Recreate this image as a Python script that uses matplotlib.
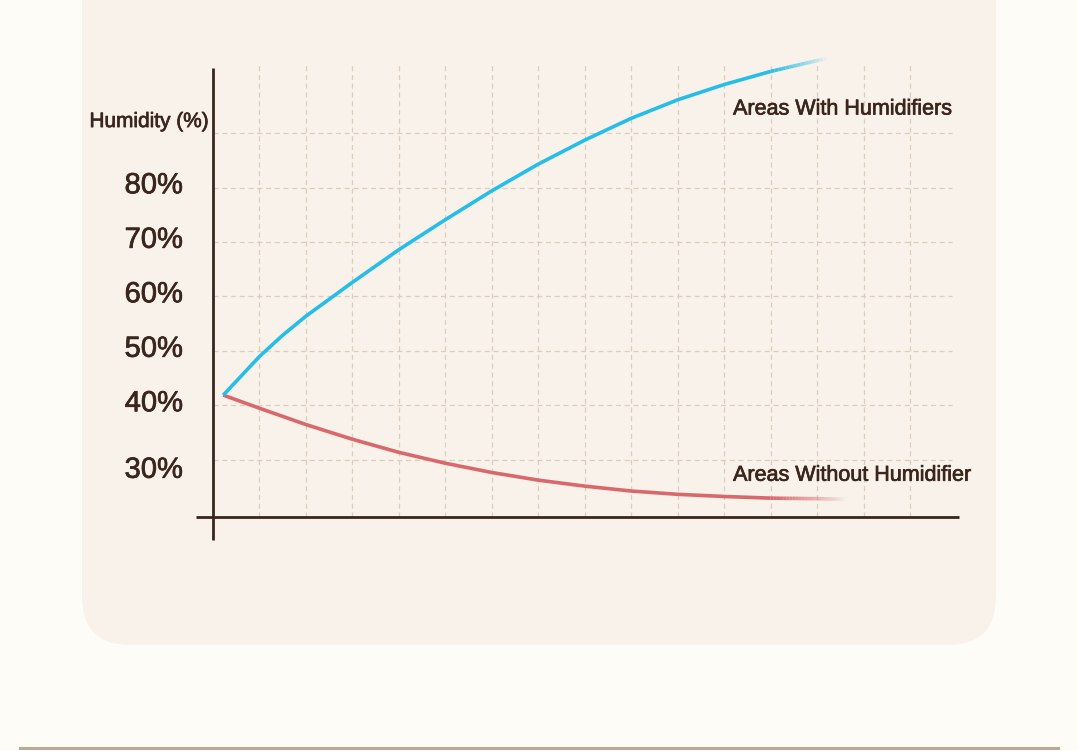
import numpy as np
import matplotlib
matplotlib.use("Agg")
import matplotlib.pyplot as plt
import matplotlib.patheffects as pe
from matplotlib.collections import LineCollection
from matplotlib.patches import FancyBboxPatch
from matplotlib.lines import Line2D
from matplotlib.colors import to_rgba

plt.rcParams['font.family'] = ['Liberation Sans', 'DejaVu Sans']

# data (x = grid columns, y = humidity %)
with_x = [0.22, 1, 1.5, 2, 3, 4, 5, 6, 7, 8, 9, 10, 11, 12, 13.2]
with_y = [41.9, 49.0, 52.9, 56.4, 62.6, 68.6, 74.1, 79.4, 84.3, 88.7, 92.7, 96.1, 98.9, 101.3, 103.7]
without_x = [0.22, 1, 2, 3, 4, 5, 6, 7, 8, 9, 10, 11, 12, 13, 13.6]
without_y = [41.9, 39.5, 36.5, 33.8, 31.4, 29.4, 27.7, 26.3, 25.2, 24.3, 23.7, 23.3, 23.0, 22.9, 22.8]
tick_values = [30, 40, 50, 60, 70, 80]
tick_labels = ["30%", "40%", "50%", "60%", "70%", "80%"]
series_names = ["Areas With Humidifiers", "Areas Without Humidifier"]

BG = "#fefcf6"
CARD = "#f8f2ea"
INK = "#3a261c"
GRID = "#dccdbf"
BLUE = "#27bde9"
RED = "#d9686c"

fig = plt.figure(figsize=(10.78, 7.51), dpi=100, facecolor=BG)

card = FancyBboxPatch((82/1078, (751-645)/751), (996-82)/1078, 700/751,
                      boxstyle="round,pad=0,rounding_size=0.045",
                      transform=fig.transFigure, facecolor=CARD, edgecolor="none",
                      mutation_aspect=1078/751, zorder=-10)
fig.patches.append(card)
fig.add_artist(Line2D([20/1078, 1058/1078], [3.5/751, 3.5/751], color="#b9ab9c",
                      lw=2.2, transform=fig.transFigure, zorder=-5))

ax = fig.add_axes([0.1545, 0.2714, 0.776, 0.6676])
ax.set_zorder(5)
ax.set_xlim(-1, 17)
ax.set_ylim(14, 106)
ax.axis('off')

# grid
for gx in range(1, 16):
    ax.plot([gx, gx], [19.5, 102.8], color=GRID, lw=0.9, ls=(0, (4, 3)), zorder=1)
for gy in range(30, 100, 10):
    ax.plot([0, 15.9], [gy, gy], color=GRID, lw=0.9, ls=(0, (4, 3)), zorder=1)

# axes lines
ax.plot([0, 0], [15.3, 101.9], color=INK, lw=2.0, zorder=3, solid_capstyle='butt')
ax.plot([-0.37, 16.05], [19.5, 19.5], color=INK, lw=2.0, zorder=3, solid_capstyle='butt')


def faded_line(xs, ys, color, fade_from):
    # solid part as one line, faded tail as short pieces
    base = np.array(to_rgba(color))
    last = max(i for i, x in enumerate(xs) if x <= fade_from)
    ax.plot(xs[:last + 1], ys[:last + 1], color=color, lw=2.6, zorder=4,
            solid_capstyle='butt', solid_joinstyle='round')
    segs, cols = [], []
    for i in range(last, len(xs) - 1):
        ts = np.linspace(0, 1, 16)
        px = xs[i] + (xs[i+1] - xs[i]) * ts
        py = ys[i] + (ys[i+1] - ys[i]) * ts
        for k in range(len(ts) - 1):
            segs.append([(px[k], py[k]), (px[k+1], py[k+1])])
            mid = (px[k] + px[k+1]) / 2
            c = base.copy()
            c[3] = max(0.0, 1 - (mid - xs[last]) / (xs[-1] - xs[last])) ** 0.8
            cols.append(c)
    ax.add_collection(LineCollection(segs, colors=cols, linewidths=2.6,
                                     capstyle='butt', zorder=4))


faded_line(without_x, without_y, RED, 12.0)
faded_line(with_x, with_y, BLUE, 12.0)

# labels
bold = [pe.withStroke(linewidth=0.5, foreground=INK)]
for v, lab in zip(tick_values, tick_labels):
    ax.text(-0.65, v + (0.4 if v != 30 else -1.8), lab, ha='right', va='center',
            fontsize=21, color=INK, path_effects=bold)
ax.text(-0.08, 92.1, "Humidity (%)", ha='right', va='center', fontsize=15, color=INK,
        path_effects=bold)
ax.text(11.19, 94.4, series_names[0], ha='left', va='center', fontsize=15.5, color=INK,
        path_effects=bold)
ax.text(11.19, 27.2, series_names[1], ha='left', va='center', fontsize=15.5, color=INK,
        path_effects=bold)

fig.savefig("out.png", dpi=100, facecolor=BG)
